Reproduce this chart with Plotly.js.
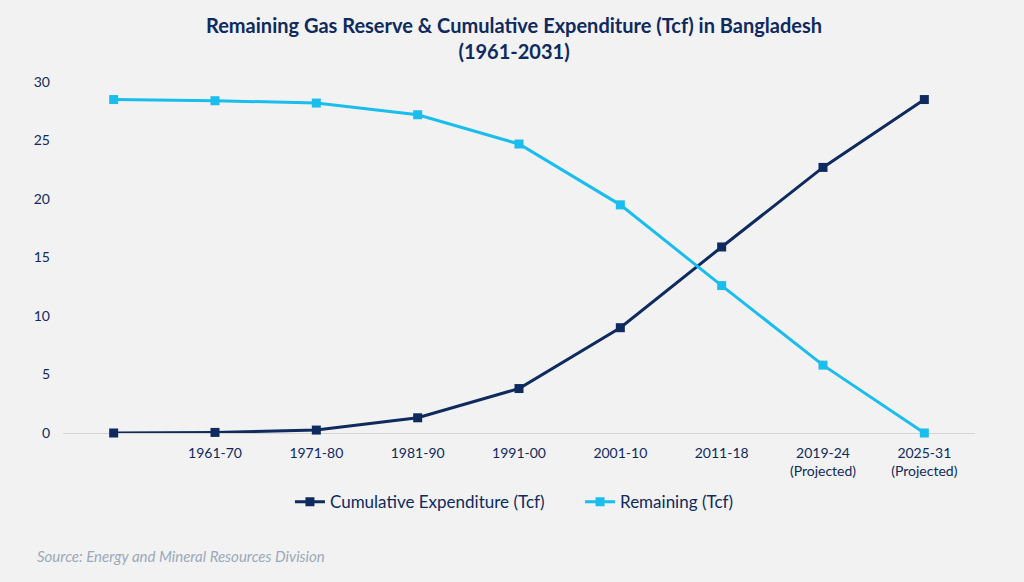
<!DOCTYPE html>
<html>
<head>
<meta charset="utf-8">
<script src="https://cdn.plot.ly/plotly-3.0.1.min.js"></script>
<style>html,body{margin:0;padding:0;background:#f2f2f2;}#chart{width:1024px;height:582px;}</style>
</head>
<body>
<div id="chart"></div>
<script>
const categories = ["", "1961-70", "1971-80", "1981-90", "1991-00", "2001-10", "2011-18", "2019-24<br>(Projected)", "2025-31<br>(Projected)"];
const cumulativeExpenditure = [0, 0.05, 0.25, 1.3, 3.8, 9.0, 15.9, 22.7, 28.5];
const remaining = [28.5, 28.4, 28.2, 27.2, 24.7, 19.5, 12.6, 5.8, 0];
const yTicks = [0, 5, 10, 15, 20, 25, 30];
const seriesNames = ["Cumulative Expenditure (Tcf)", "Remaining (Tcf)"];

const xs = categories.map((c, i) => i);
const navy = "#0e2a5e";
const cyan = "#19bdee";
const fontFam = "Lato, 'Open Sans', sans-serif";

const traces = [
  {x: xs, y: cumulativeExpenditure, name: seriesNames[0] + "&nbsp;&nbsp;&nbsp;&nbsp;&nbsp;&nbsp;&nbsp;", type: "scatter", mode: "lines+markers",
   cliponaxis: false, line: {color: navy, width: 3}, marker: {symbol: "square", size: 9, color: navy}},
  {x: xs, y: remaining, name: seriesNames[1], type: "scatter", mode: "lines+markers",
   cliponaxis: false, line: {color: cyan, width: 3}, marker: {symbol: "square", size: 9, color: cyan}}
];

const layout = {
  width: 1024, height: 582,
  paper_bgcolor: "#f2f2f2", plot_bgcolor: "#f2f2f2",
  margin: {l: 63, r: 49, t: 82, b: 149},
  xaxis: {range: [-0.5, 8.5], tickmode: "array", tickvals: xs, ticktext: categories,
          showgrid: false, zeroline: false, showline: false, ticks: "", ticklabelstandoff: 10,
          tickfont: {family: fontFam, size: 14, color: navy}, fixedrange: true},
  yaxis: {range: [0, 30], tickmode: "array", tickvals: yTicks, showgrid: false,
          zeroline: true, zerolinecolor: "#d4d4d4", zerolinewidth: 1, showline: false,
          ticks: "", ticklabelstandoff: 12, tickfont: {family: fontFam, size: 14, color: navy}, fixedrange: true},
  showlegend: true,
  legend: {orientation: "h", x: 0.495, xanchor: "center", y: -0.197, yanchor: "middle",
           font: {family: fontFam, size: 17, color: navy}, bgcolor: "rgba(0,0,0,0)"},
  annotations: [
    {text: "<b>Remaining Gas Reserve & Cumulative Expenditure (Tcf) in Bangladesh<br>(1961-2031)</b>",
     xref: "paper", yref: "paper", x: 0.495, y: 1.124, xanchor: "center", yanchor: "middle", showarrow: false,
     font: {family: fontFam, size: 20, color: navy}},
    {text: "<i>Source: Energy and Mineral Resources Division</i>", xref: "paper", yref: "paper",
     x: -0.031, y: -0.35, xanchor: "left", yanchor: "middle", showarrow: false,
     font: {family: fontFam, size: 15, color: "#9aa9ba"}}
  ]
};

Plotly.newPlot("chart", traces, layout, {displayModeBar: false, staticPlot: true});
</script>
</body>
</html>
